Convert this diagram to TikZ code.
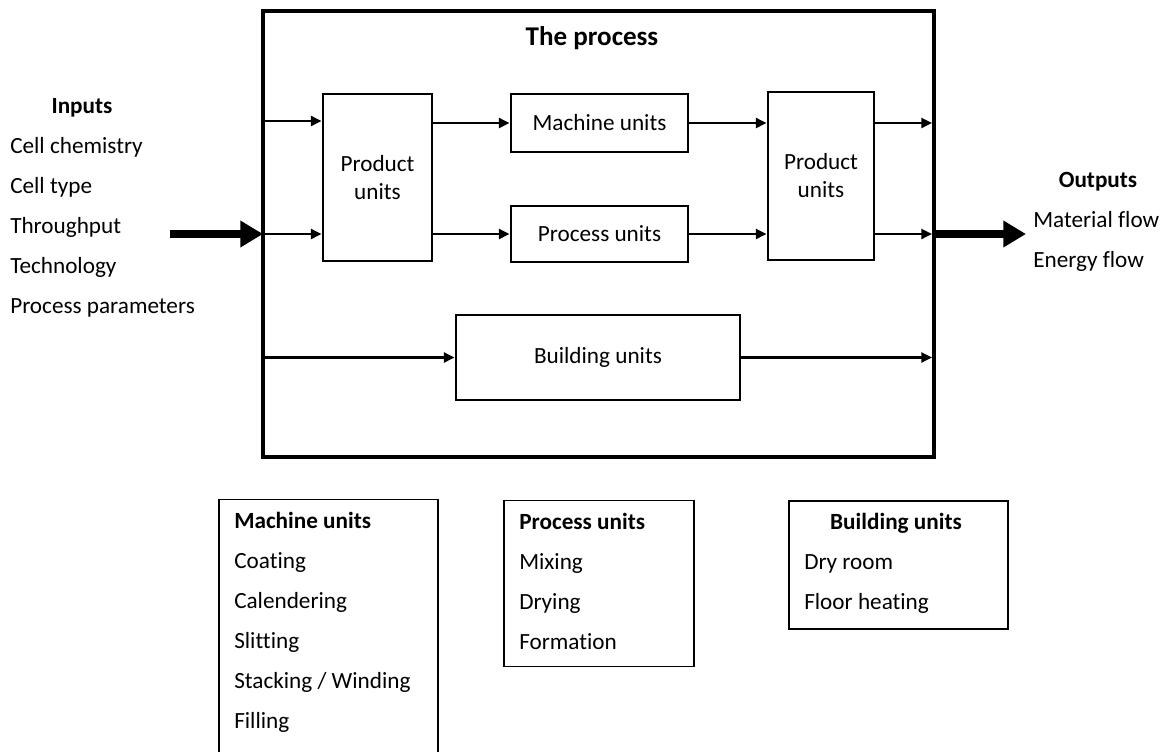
\documentclass[tikz,border=0pt]{standalone}
\usepackage{fontspec}
\setmainfont[Ligatures=NoCommon]{Carlito}
\usetikzlibrary{arrows.meta}

\begin{document}
\begin{tikzpicture}[x=0.75pt, y=-0.75pt,
  every node/.style={font=\fontsize{17.4}{21}\selectfont},
  unit/.style={draw, line width=2.2pt, align=center, inner sep=0pt},
  legend/.style={draw, line width=0.8pt, inner sep=0pt, anchor=north},
  item/.style={anchor=base west, inner sep=0pt},
  head/.style={item, font=\fontsize{17.4}{21}\selectfont\bfseries},
  flow/.style={-{Triangle[length=8pt,width=7.5pt]}, line width=1.7pt},
  bigflow/.style={-{Triangle[length=17pt,width=19pt]}, line width=6pt}]

  \clip (0,0) rectangle (1172,751);

  % --- 1. the process (outer box) ---
  \node[draw, line width=3.6pt, outer sep=0pt, minimum width=503.25pt, minimum height=334.5pt] (outer) at (598.5,234) {};
  \node[head, anchor=base, font=\fontsize{20.3}{24}\selectfont\bfseries] (title) at (592,45) {The process};

  % --- 2. units inside the process ---
  \node[unit, minimum width=81.75pt, minimum height=125.25pt] (prodL) at (377.5,177.5) {Product\\units};
  \node[unit, minimum width=132.75pt, minimum height=43.5pt] (mach) at (599.5,123) {Machine units};
  \node[unit, minimum width=132.75pt, minimum height=42pt] (proc) at (599.5,234) {Process units};
  \node[unit, minimum width=79.5pt, minimum height=126pt] (prodR) at (821,176) {Product\\units};
  \node[unit, minimum width=213pt, minimum height=63.75pt] (build) at (598,357.5) {Building units};

  % --- 3. flows ---
  \draw[flow] (outer.west |- 0,121) -- (prodL.west |- 0,121);
  \draw[flow] (outer.west |- proc.west) -- (prodL.west |- proc.west);
  \draw[flow] (prodL.east |- mach.west) -- (mach.west);
  \draw[flow] (prodL.east |- proc.west) -- (proc.west);
  \draw[flow] (mach.east) -- (prodR.west |- mach.east);
  \draw[flow] (proc.east) -- (prodR.west |- proc.east);
  \draw[flow, shorten >=1.5pt] (prodR.east |- mach.east) -- (outer.east |- mach.east);
  \draw[flow, shorten >=1.5pt] (prodR.east |- proc.east) -- (outer.east |- proc.east);
  \draw[flow] (outer.west |- build.west) -- (build.west);
  \draw[flow, shorten >=1.5pt] (build.east) -- (outer.east |- build.east);

  % --- 4. inputs and outputs ---
  \coordinate (inStart) at (170,234);
  \coordinate (outEnd) at (1026,234);
  \draw[bigflow] (inStart) -- (outer.west);
  \draw[bigflow] (outer.east) -- (outEnd);

  \node[head, anchor=base] (inputs) at (82,113) {Inputs};
  \foreach \txt [count=\i] in {Cell chemistry, Cell type, Throughput, Technology, Process parameters}
    \node[item] (inp\i) at (10,{113+40*\i}) {\txt};

  \node[head, anchor=base] (outputs) at (1098,187) {Outputs};
  \node[item] (out1) at (1033,227) {Material flow};
  \node[item] (out2) at (1033,267) {Energy flow};

  % --- 5. legend boxes ---
  \node[legend, minimum width=164.25pt, minimum height=226pt] (machLeg) at (328.5,499) {};
  \node[head] (machHead) at (234,528) {Machine units};
  \foreach \txt [count=\i] in {Coating, Calendering, Slitting, Stacking / Winding, Filling}
    \node[item] (mach\i) at (234,{528+40*\i}) {\txt};

  \node[legend, minimum width=142.5pt, minimum height=124.5pt] (procLeg) at (599,500) {};
  \node[head] (procHead) at (519,529) {Process units};
  \foreach \txt [count=\i] in {Mixing, Drying, Formation}
    \node[item] (proc\i) at (519,{529+40*\i}) {\txt};

  \node[legend, line width=1.6pt, minimum width=164.25pt, minimum height=96pt] (buildLeg) at (898.5,500) {};
  \node[head, anchor=base] (buildHead) at (896,529) {Building units};
  \foreach \txt [count=\i] in {Dry room, Floor heating}
    \node[item] (build\i) at (804,{529+40*\i}) {\txt};

\end{tikzpicture}
\end{document}
